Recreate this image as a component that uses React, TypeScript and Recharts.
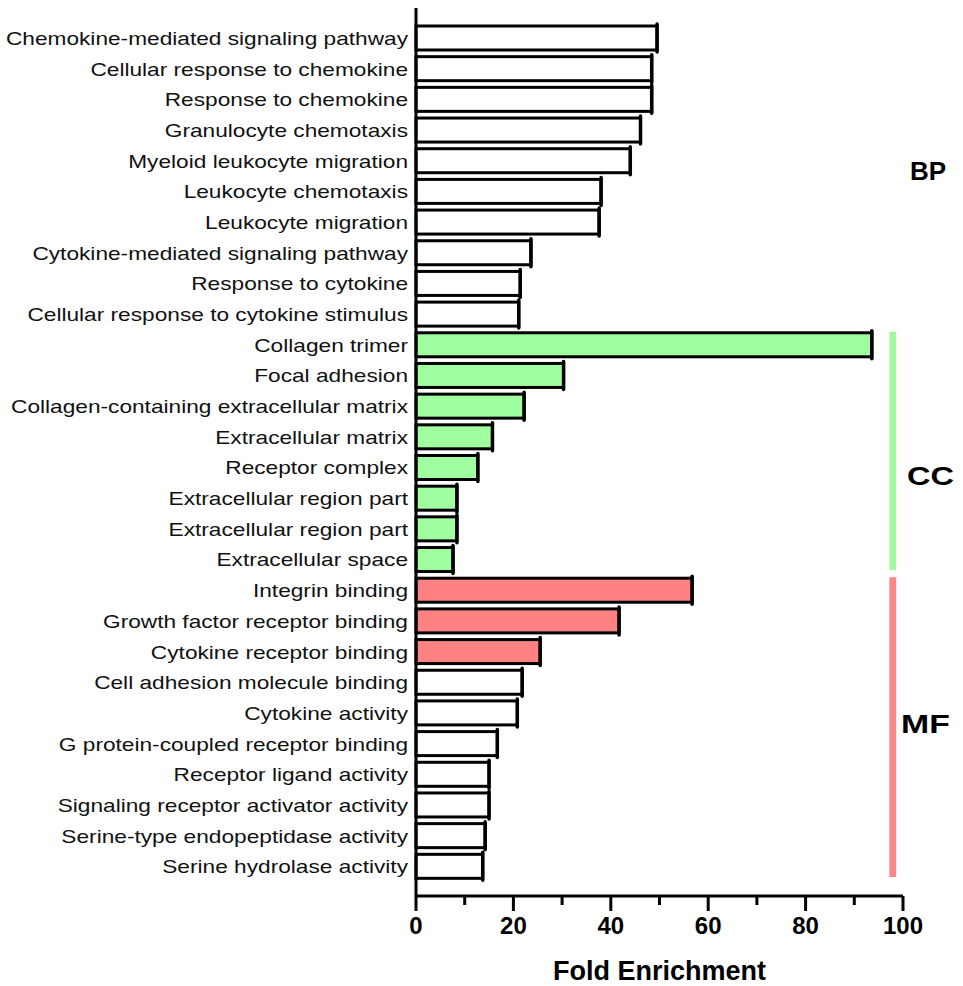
import { BarChart, Bar, XAxis, YAxis, ReferenceArea } from "recharts";

const TERMS = [
  "Chemokine-mediated signaling pathway",
  "Cellular response to chemokine",
  "Response to chemokine",
  "Granulocyte chemotaxis",
  "Myeloid leukocyte migration",
  "Leukocyte chemotaxis",
  "Leukocyte migration",
  "Cytokine-mediated signaling pathway",
  "Response to cytokine",
  "Cellular response to cytokine stimulus",
  "Collagen trimer",
  "Focal adhesion",
  "Collagen-containing extracellular matrix",
  "Extracellular matrix",
  "Receptor complex",
  "Extracellular region part",
  "Extracellular region part",
  "Extracellular space",
  "Integrin binding",
  "Growth factor receptor binding",
  "Cytokine receptor binding",
  "Cell adhesion molecule binding",
  "Cytokine activity",
  "G protein-coupled receptor binding",
  "Receptor ligand activity",
  "Signaling receptor activator activity",
  "Serine-type endopeptidase activity",
  "Serine hydrolase activity",
];

const FOLD_ENRICHMENT = [
  49.5, 48.4, 48.4, 46.1, 44.0, 38.0, 37.6, 23.6, 21.4, 21.1,
  93.6, 30.3, 22.2, 15.7, 12.7, 8.4, 8.4, 7.6,
  56.7, 41.7, 25.5, 21.8, 20.8, 16.7, 15.0, 15.0, 14.2, 13.7,
];

const ONTOLOGY = [
  "BP", "BP", "BP", "BP", "BP", "BP", "BP", "BP", "BP", "BP",
  "CC", "CC", "CC", "CC", "CC", "CC", "CC", "CC",
  "MF", "MF", "MF", "MF", "MF", "MF", "MF", "MF", "MF", "MF",
];

const MF_HIGHLIGHTED = [
  "Integrin binding",
  "Growth factor receptor binding",
  "Cytokine receptor binding",
];

const GROUPS = ["BP", "CC", "MF"];
const X_TICKS = [0, 10, 20, 30, 40, 50, 60, 70, 80, 90, 100];

const FONT = "'Liberation Sans', Arial, Helvetica, sans-serif";
const GREEN = "#a0ff9f";
const RED = "#ff8282";

// where the group labels sit relative to the middle of their span
const GROUP_STYLE: Record<string, { dx: number; dy: number; sx: number; strip?: string }> = {
  BP: { dx: 7, dy: -5, sx: 1 },
  CC: { dx: 4, dy: 23, sx: 1.25, strip: "#a6f7a0" },
  MF: { dx: -2, dy: -5, sx: 1.3, strip: "#ff8787" },
};

function barFill(i: number) {
  if (ONTOLOGY[i] === "CC") return GREEN;
  if (ONTOLOGY[i] === "MF" && MF_HIGHLIGHTED.includes(TERMS[i])) return RED;
  return "#ffffff";
}

const rows = TERMS.map((term, i) => ({
  id: String(i),
  term,
  value: FOLD_ENRICHMENT[i],
  fill: barFill(i),
}));

const groupSpans = GROUPS.map((g) => ({
  name: g,
  first: String(ONTOLOGY.indexOf(g)),
  last: String(ONTOLOGY.lastIndexOf(g)),
}));

function BarShape(props: any) {
  const { x, y, width, height, payload } = props;
  return (
    <g>
      <rect
        x={x}
        y={y}
        width={width}
        height={height}
        fill={payload.fill}
        stroke="#000"
        strokeWidth={3}
      />
      <line
        x1={x + width}
        x2={x + width}
        y1={y - 2}
        y2={y + height + 2}
        stroke="#000"
        strokeWidth={3.5}
        strokeLinecap="round"
      />
    </g>
  );
}

function TermTick(props: any) {
  const { x, y, payload } = props;
  return (
    <text
      transform={`translate(${x},${y}) scale(1.26,1)`}
      textAnchor="end"
      dominantBaseline="central"
      fontFamily={FONT}
      fontSize={18}
      fill="#111"
    >
      {TERMS[Number(payload.value)]}
    </text>
  );
}

function FoldTick(props: any) {
  const { x, y, payload } = props;
  const major = payload.value % 20 === 0;
  return (
    <g>
      <line
        x1={x}
        x2={x}
        y1={y}
        y2={y + (major ? 15 : 9)}
        stroke="#000"
        strokeWidth={3}
      />
      {major && (
        <text
          x={x}
          y={y + 38}
          textAnchor="middle"
          fontFamily={FONT}
          fontWeight="bold"
          fontSize={24}
          fill="#000"
        >
          {payload.value}
        </text>
      )}
    </g>
  );
}

export default function App() {
  return (
    <div style={{ position: "absolute", left: 0, top: 0, background: "#fff" }}>
      <BarChart
        width={963}
        height={986}
        data={rows}
        layout="vertical"
        margin={{ top: 8, right: 60, bottom: 0, left: 0 }}
      >
        <XAxis
          type="number"
          dataKey="value"
          domain={[0, 100]}
          ticks={X_TICKS}
          interval={0}
          height={90}
          axisLine={{ stroke: "#000", strokeWidth: 3 }}
          tickLine={false}
          tickSize={0}
          tickMargin={0}
          tick={<FoldTick />}
          label={(p: any) => {
            const vb = p.viewBox;
            return (
              <text
                x={vb.x + vb.width / 2}
                y={980}
                textAnchor="middle"
                fontFamily={FONT}
                fontWeight="bold"
                fontSize={27}
                fill="#000"
              >
                Fold Enrichment
              </text>
            );
          }}
        />
        <YAxis
          type="category"
          dataKey="id"
          width={416}
          interval={0}
          padding={{ top: 15, bottom: 14 }}
          axisLine={{ stroke: "#000", strokeWidth: 3 }}
          tickLine={false}
          tickSize={0}
          tickMargin={8}
          tick={<TermTick />}
        />
        {groupSpans.map((g) => {
          const st = GROUP_STYLE[g.name];
          return (
            <ReferenceArea
              key={g.name}
              x1={97.2}
              x2={98.6}
              y1={g.first}
              y2={g.last}
              ifOverflow="visible"
              shape={(p: any) =>
                st.strip ? (
                  <rect
                    x={p.x}
                    y={p.y + 2}
                    width={p.width}
                    height={p.height - 7}
                    fill={st.strip}
                  />
                ) : (
                  <g />
                )
              }
              label={(p: any) => {
                const vb = p.viewBox;
                const tx = 903 + st.dx;
                const ty = vb.y + vb.height / 2 + st.dy;
                return (
                  <text
                    transform={`translate(${tx},${ty}) scale(${st.sx},1)`}
                    dominantBaseline="central"
                    fontFamily={FONT}
                    fontWeight="bold"
                    fontSize={26}
                    fill="#000"
                  >
                    {g.name}
                  </text>
                );
              }}
            />
          );
        })}
        <Bar
          dataKey="value"
          barSize={24}
          shape={<BarShape />}
          isAnimationActive={false}
        />
      </BarChart>
    </div>
  );
}
